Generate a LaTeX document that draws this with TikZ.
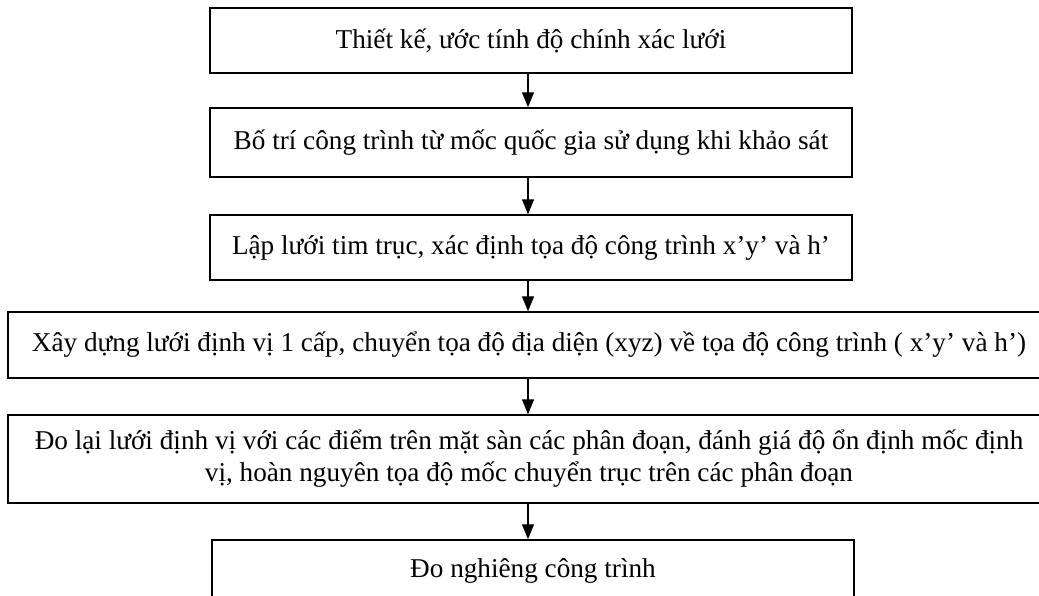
\documentclass[tikz,border=0pt]{standalone}
\usepackage{fontspec}
\setmainfont{Liberation Serif}
\usetikzlibrary{arrows.meta}
\begin{document}
\begin{tikzpicture}[x=1pt,y=-1pt,
  box/.style={draw, line width=1.4pt, rectangle, align=center, inner sep=0pt,
    font=\fontsize{27.2}{32}\selectfont},
  arr/.style={draw, line width=1.1pt, -{Triangle[width=12pt,length=15pt]}}]
\useasboundingbox (0,0) rectangle (1039,596);
\node[box, minimum width=642pt, minimum height=65pt] (b1) at (531,40.5) {Thiết kế, ước tính độ chính xác lưới};
\node[box, minimum width=642pt, minimum height=69pt] (b2) at (531,142.5) {Bố trí công trình từ mốc quốc gia sử dụng khi khảo sát};
\node[box, minimum width=642pt, minimum height=65pt] (b3) at (531,247.5) {Lập lưới tim trục, xác định tọa độ công trình x’y’ và h’};
\node[box, minimum width=1042pt, minimum height=66pt] (b4) at (529,345) {Xây dựng lưới định vị 1 cấp, chuyển tọa độ địa diện (xyz) về tọa độ công trình ( x’y’ và h’)};
\node[box, minimum width=1042pt, minimum height=88pt] (b5) at (529,459) {Đo lại lưới định vị với các điểm trên mặt sàn các phân đoạn, đánh giá độ ổn định mốc định\\vị, hoàn nguyên tọa độ mốc chuyển trục trên các phân đoạn};
\node[box, minimum width=642pt, minimum height=62pt] (b6) at (533,571) {Đo nghiêng công trình};
\draw[arr] (b1.south -| 528,0) -- (b2.north -| 528,0);
\draw[arr] (b2.south -| 528,0) -- (b3.north -| 528,0);
\draw[arr] (b3.south -| 528,0) -- (b4.north -| 528,0);
\draw[arr] (b4.south -| 528,0) -- (b5.north -| 528,0);
\draw[arr] (b5.south -| 528,0) -- (b6.north -| 528,0);
\end{tikzpicture}
\end{document}
